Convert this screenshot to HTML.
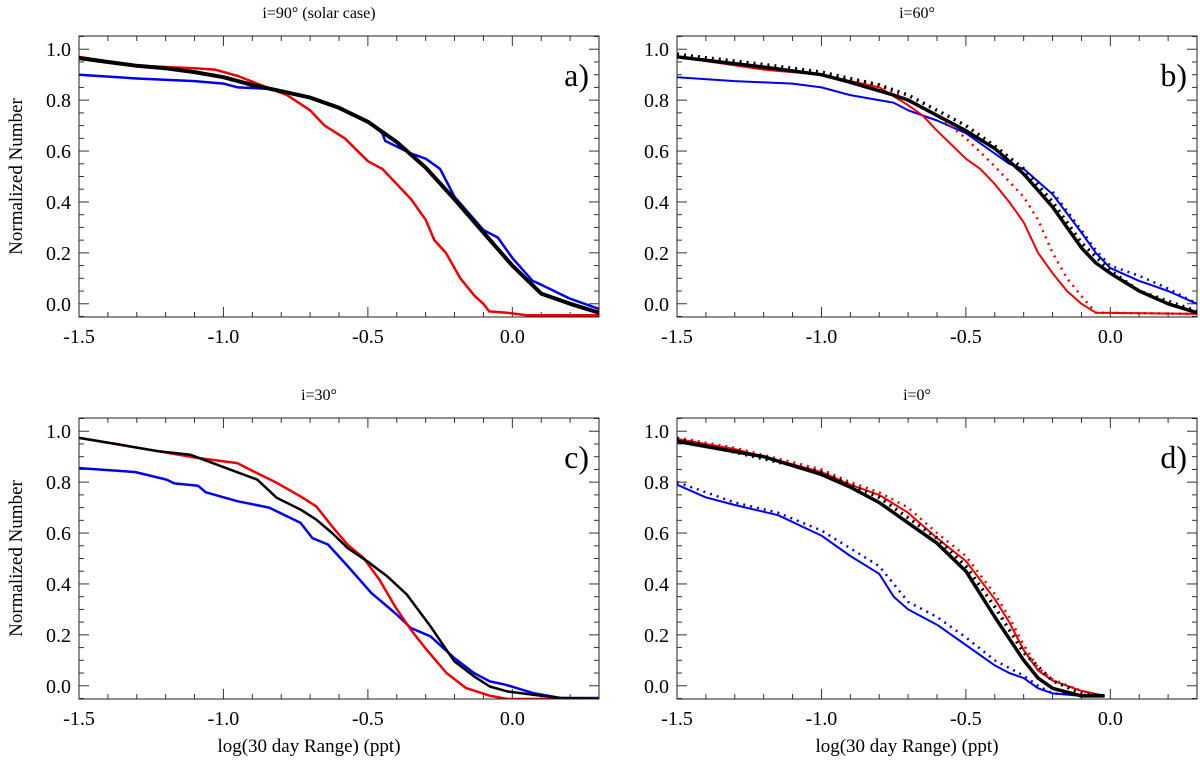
<!DOCTYPE html>
<html><head><meta charset="utf-8"><style>
html,body{margin:0;padding:0;background:#fff;}
svg{display:block;font-family:"Liberation Serif",serif;}
</style></head><body>
<svg id="fig" width="1200" height="766" viewBox="0 0 1200 766" xmlns="http://www.w3.org/2000/svg"></svg>
<script>
const xTicks=[-1.5,-1.0,-0.5,0.0];
const xTickLabels=["-1.5","-1.0","-0.5","0.0"];
const yTicks=[0,0.2,0.4,0.6,0.8,1.0];
const yTickLabels=["0.0","0.2","0.4","0.6","0.8","1.0"];
const panelTitles=["i=90\u00b0 (solar case)","i=60\u00b0","i=30\u00b0","i=0\u00b0"];
const panelLetters=["a)","b)","c)","d)"];

// panel a
const aBlack=[[-1.5,.965],[-1.4,.95],[-1.3,.935],[-1.2,.925],[-1.1,.91],[-1.0,.89],[-0.9,.86],[-0.8,.835],[-0.7,.81],[-0.6,.77],[-0.5,.715],[-0.4,.635],[-0.3,.535],[-0.2,.41],[-0.1,.28],[0.0,.15],[0.1,.04],[0.2,0.0],[0.3,-0.035]];
const aBlue=[[-1.5,.90],[-1.3,.885],[-1.1,.875],[-1.0,.865],[-0.95,.85],[-0.85,.845],[-0.7,.81],[-0.6,.77],[-0.5,.715],[-0.45,.67],[-0.44,.64],[-0.35,.59],[-0.3,.57],[-0.25,.53],[-0.2,.42],[-0.1,.29],[-0.05,.26],[0.0,.18],[0.07,.09],[0.1,.075],[0.2,.02],[0.3,-0.02]];
const aRed=[[-1.5,.97],[-1.3,.935],[-1.1,.925],[-1.03,.92],[-0.95,.895],[-0.85,.85],[-0.78,.82],[-0.7,.76],[-0.65,.70],[-0.58,.65],[-0.5,.56],[-0.45,.53],[-0.4,.47],[-0.35,.41],[-0.3,.33],[-0.27,.25],[-0.23,.20],[-0.18,.10],[-0.13,.03],[-0.1,.0],[-0.08,-0.03],[-0.02,-0.035],[0.05,-0.045],[0.3,-0.045]];
// panel b
const bBlack=[[-1.5,.97],[-1.2,.93],[-1.0,.90],[-0.9,.87],[-0.75,.82],[-0.7,.80],[-0.6,.74],[-0.5,.68],[-0.4,.61],[-0.3,.51],[-0.2,.38],[-0.15,.30],[-0.1,.22],[-0.05,.16],[0.0,.12],[0.1,.05],[0.2,0.0],[0.3,-0.035]];
const bBlackDot=[[-1.5,.98],[-1.2,.94],[-1.0,.91],[-0.8,.86],[-0.7,.82],[-0.6,.76],[-0.5,.70],[-0.4,.62],[-0.3,.53],[-0.2,.40],[-0.1,.24],[0.0,.13],[0.1,.05],[0.3,-0.03]];
const bBlue=[[-1.5,.89],[-1.3,.875],[-1.1,.865],[-1.0,.85],[-0.9,.82],[-0.75,.79],[-0.7,.76],[-0.6,.72],[-0.5,.67],[-0.4,.59],[-0.35,.55],[-0.3,.53],[-0.2,.43],[-0.1,.28],[-0.05,.20],[0.0,.14],[0.1,.09],[0.2,.05],[0.3,0.0]];
const bBlueDot=[[-0.2,.44],[-0.1,.29],[-0.05,.21],[0.0,.15],[0.1,.11],[0.2,.06],[0.3,.0]];
const bRed=[[-1.5,.97],[-1.2,.92],[-1.0,.90],[-0.8,.85],[-0.7,.78],[-0.65,.74],[-0.6,.68],[-0.5,.57],[-0.45,.53],[-0.4,.47],[-0.35,.40],[-0.3,.32],[-0.25,.20],[-0.2,.12],[-0.15,.05],[-0.1,.0],[-0.05,-0.035],[0.3,-0.04]];
const bRedDot=[[-1.5,.97],[-1.0,.90],[-0.8,.86],[-0.7,.80],[-0.6,.74],[-0.5,.65],[-0.4,.54],[-0.3,.42],[-0.25,.33],[-0.2,.20],[-0.15,.10],[-0.1,.03],[-0.05,-0.035],[0.3,-0.04]];
// panel c
const cBlack=[[-1.5,.974],[-1.361,.948],[-1.224,.921],[-1.115,.908],[-1.006,.862],[-0.883,.81],[-0.815,.738],[-0.733,.692],[-0.679,.653],[-0.624,.60],[-0.570,.541],[-0.502,.489],[-0.433,.43],[-0.365,.358],[-0.283,.233],[-0.201,.096],[-0.133,.037],[-0.078,-0.003],[-0.017,-0.022],[0.072,-0.035],[0.167,-0.048],[0.3,-0.052]];
const cRed=[[-1.5,.974],[-1.224,.921],[-1.088,.895],[-0.952,.875],[-0.897,.843],[-0.815,.797],[-0.733,.744],[-0.679,.705],[-0.624,.626],[-0.570,.554],[-0.515,.502],[-0.460,.417],[-0.406,.312],[-0.351,.22],[-0.297,.142],[-0.228,.05],[-0.160,-0.009],[-0.078,-0.039],[-0.017,-0.052],[0.3,-0.052]];
const cBlue=[[-1.5,.855],[-1.306,.84],[-1.197,.81],[-1.17,.795],[-1.088,.786],[-1.061,.76],[-0.952,.725],[-0.842,.70],[-0.733,.64],[-0.692,.58],[-0.638,.555],[-0.570,.47],[-0.488,.364],[-0.447,.325],[-0.406,.286],[-0.351,.227],[-0.283,.194],[-0.201,.109],[-0.133,.05],[-0.078,.017],[-0.024,.004],[0.072,-0.029],[0.167,-0.048],[0.3,-0.048]];
// panel d
const dBlack=[[-1.5,.96],[-1.3,.92],[-1.2,.90],[-1.0,.83],[-0.9,.78],[-0.8,.72],[-0.7,.64],[-0.6,.56],[-0.5,.45],[-0.4,.27],[-0.3,.10],[-0.25,.03],[-0.2,-0.01],[-0.1,-0.04],[-0.02,-0.04]];
const dBlackDot=[[-1.5,.97],[-1.0,.84],[-0.8,.74],[-0.7,.66],[-0.6,.58],[-0.5,.47],[-0.4,.31],[-0.3,.13],[-0.2,.02],[-0.1,-0.03],[-0.02,-0.04]];
const dRed=[[-1.5,.97],[-1.3,.93],[-1.0,.84],[-0.9,.79],[-0.8,.75],[-0.7,.68],[-0.6,.58],[-0.5,.49],[-0.4,.34],[-0.35,.25],[-0.3,.14],[-0.25,.06],[-0.2,.02],[-0.1,-0.02],[-0.02,-0.04]];
const dRedDot=[[-1.5,.975],[-1.3,.935],[-1.0,.85],[-0.9,.80],[-0.8,.76],[-0.7,.70],[-0.6,.60],[-0.5,.51],[-0.4,.36],[-0.35,.27],[-0.3,.16],[-0.25,.07],[-0.2,.025],[-0.1,-0.02],[-0.02,-0.04]];
const dBlue=[[-1.5,.79],[-1.4,.74],[-1.3,.71],[-1.15,.67],[-1.0,.59],[-0.9,.51],[-0.8,.44],[-0.75,.35],[-0.7,.30],[-0.6,.24],[-0.5,.16],[-0.4,.08],[-0.35,.05],[-0.3,.03],[-0.25,-0.01],[-0.2,-0.03],[-0.1,-0.04],[-0.02,-0.04]];
const dBlueDot=[[-1.5,.80],[-1.3,.72],[-1.15,.68],[-1.0,.61],[-0.9,.54],[-0.8,.47],[-0.75,.40],[-0.7,.33],[-0.6,.27],[-0.5,.19],[-0.4,.10],[-0.3,.04],[-0.25,0.0],[-0.2,-0.03],[-0.02,-0.04]];

const NS="http://www.w3.org/2000/svg";
const svg=document.getElementById('fig');
function mk(tag,attrs,parent){const e=document.createElementNS(NS,tag);for(const k in attrs)e.setAttribute(k,attrs[k]);(parent||svg).appendChild(e);return e;}
const XMIN=-1.5,XMAX=0.3,YMIN=-0.052,YMAX=1.052;
const boxes=[{x:79,y:36},{x:677,y:36},{x:79,y:418},{x:677,y:418}];
const W=520,H=281;
const panels=[
 [[aBlue,'#0000ee',2.5,null],[aRed,'#ee0000',2.5,null],[aBlack,'#000',4,null]],
 [[bBlueDot,'#0000ee',2.5,'2 5'],[bBlue,'#0000ee',2,null],[bRedDot,'#ee0000',2.5,'2 5'],[bRed,'#ee0000',2,null],[bBlackDot,'#000',3.5,'2 5'],[bBlack,'#000',3.5,null]],
 [[cBlue,'#0000ee',2.5,null],[cRed,'#ee0000',2.5,null],[cBlack,'#000',2.5,null]],
 [[dBlueDot,'#0000ee',2.5,'2 5'],[dBlue,'#0000ee',2,null],[dRedDot,'#ee0000',2.5,'2 5'],[dRed,'#ee0000',2,null],[dBlackDot,'#000',3.5,'2 5'],[dBlack,'#000',3.5,null]]
];
const seriesNames=['blue','red','black'];
boxes.forEach((b,pi)=>{
  const g=mk('g',{});
  
  
  const sx=v=>b.x+(v-XMIN)/(XMAX-XMIN)*W;
  const sy=v=>b.y+(YMAX-v)/(YMAX-YMIN)*H;
  const cp='clip'+pi;
  const cl=mk('clipPath',{id:cp},g);mk('rect',{x:b.x,y:b.y,width:W,height:H},cl);
  // ticks
  for(let i=0;i<=18;i++){const v=-1.5+i*0.1;const x=sx(v);const L=(i%5===0)?10:5;
    mk('line',{x1:x,y1:b.y+H,x2:x,y2:b.y+H-L,stroke:'#333','stroke-width':1},g);
    mk('line',{x1:x,y1:b.y,x2:x,y2:b.y+L,stroke:'#333','stroke-width':1},g);}
  for(let i=-1;i<=21;i++){const v=i*0.05;if(v<YMIN||v>YMAX)continue;const y=sy(v);const L=(i%4===0)?10:5;
    mk('line',{x1:b.x,y1:y,x2:b.x+L,y2:y,stroke:'#333','stroke-width':1},g);
    mk('line',{x1:b.x+W,y1:y,x2:b.x+W-L,y2:y,stroke:'#333','stroke-width':1},g);}
  xTicks.forEach((v,i)=>{const t=mk('text',{x:sx(v),y:b.y+H+26,'font-size':20,'text-anchor':'middle',fill:'#000'},g);t.textContent=xTickLabels[i];
    
    });
  yTicks.forEach((v,i)=>{const t=mk('text',{x:b.x-8,y:sy(v)+7,'font-size':20,'text-anchor':'end',fill:'#000'},g);t.textContent=yTickLabels[i];
    
    });
  panels[pi].forEach((s,si)=>{
    const d=s[0].map((p,k)=>(k?'L':'M')+sx(p[0]).toFixed(1)+','+sy(p[1]).toFixed(1)).join(' ');
    const a={d:d,fill:'none',stroke:s[1],'stroke-width':s[2],'stroke-linejoin':'round','clip-path':'url(#'+cp+')'};
    if(s[3])a['stroke-dasharray']=s[3];
    const p=mk('path',a,g);
    
    
  });
  const r=mk('rect',{x:b.x,y:b.y,width:W,height:H,fill:'none',stroke:'#222','stroke-width':1},g);
  
  
  const tt=mk('text',{x:b.x+W/2-20,y:b.y-18,'font-size':16,'text-anchor':'middle',fill:'#000'},g);tt.textContent=panelTitles[pi];
  
  
  const lt=mk('text',{x:b.x+W-10,y:b.y+50,'font-size':32,'text-anchor':'end',fill:'#000'},g);lt.textContent=panelLetters[pi];
  
  
  if(pi%2===0){const yt=mk('text',{x:0,y:0,'font-size':19,'text-anchor':'middle',fill:'#000',transform:'translate(22,'+(b.y+H/2)+') rotate(-90)'},g);yt.textContent='Normalized Number';
    
    }
  if(pi>=2){const xt=mk('text',{x:b.x+W/2-30,y:752,'font-size':19,'text-anchor':'middle',fill:'#000'},g);xt.textContent='log(30 day Range) (ppt)';
    
    }
});
</script>
</body></html>
